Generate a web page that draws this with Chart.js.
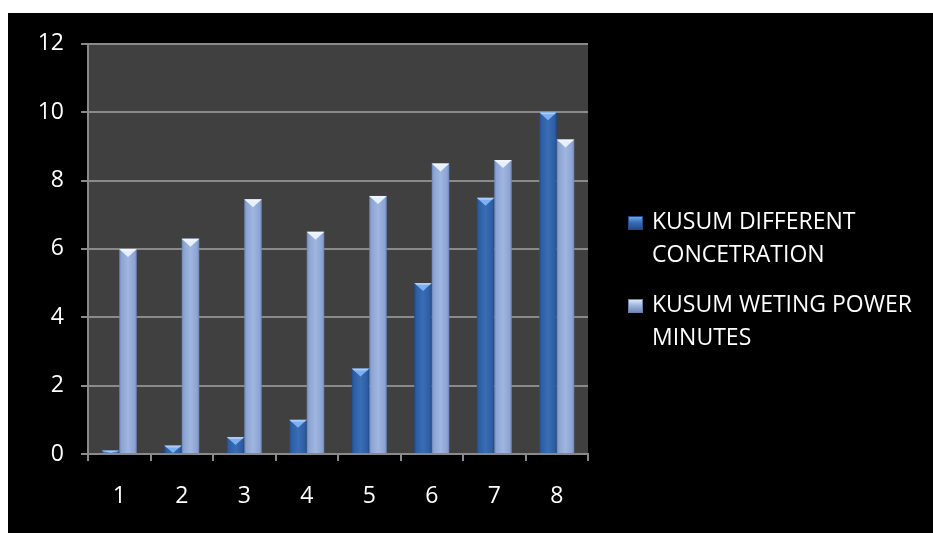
<!DOCTYPE html>
<html>
<head>
<meta charset="utf-8">
<script src="https://cdn.jsdelivr.net/npm/chart.js@4.4.1/dist/chart.umd.min.js"></script>
<style>
  html, body { margin: 0; padding: 0; background: #ffffff; }
  body { width: 933px; height: 533px; position: relative; overflow: hidden; }
  #frame { position: absolute; left: 8px; top: 13px; width: 925px; height: 520px; background: #000; }
  #chartBox { position: absolute; left: 0; top: 0; width: 925px; height: 520px; }
  #legend { position: absolute; left: 620px; top: 191px; width: 305px; font-family: "Open Sans", sans-serif; font-size: 23px; color: #fff; }
  .item { position: relative; padding-left: 24px; line-height: 33px; margin-bottom: 17px; }
  .swatch { position: absolute; left: 0; top: 12px; width: 15px; height: 14px; }
</style>
</head>
<body>
<div id="frame">
  <div id="chartBox"><canvas id="chart"></canvas></div>
  <div id="legend"></div>
</div>
<script>
// Categories and the two measured series
const categories = ['1', '2', '3', '4', '5', '6', '7', '8'];
const concentration = [0.1, 0.25, 0.5, 1, 2.5, 5, 7.5, 10];
const wettingMinutes = [6, 6.3, 7.45, 6.5, 7.55, 8.5, 8.6, 9.2];
const seriesNames = ['KUSUM DIFFERENT CONCETRATION', 'KUSUM WETING POWER MINUTES'];
const yTicks = [0, 2, 4, 6, 8, 10, 12];

// Colour palette per series: side shade, centre, bevel highlight
const palette = [
  { edge: '#21498a', mid: '#3a6db5', light: '#2d5ea3', bevel: '#7cb0f2' },
  { edge: '#6c83b2', mid: '#a0b6e0', light: '#8ca4d4', bevel: '#e6f0fd' }
];

function barGradient(ctx, el, p) {
  const g = ctx.createLinearGradient(el.x - el.width / 2, 0, el.x + el.width / 2, 0);
  g.addColorStop(0, p.edge);
  g.addColorStop(0.12, p.light);
  g.addColorStop(0.5, p.mid);
  g.addColorStop(0.88, p.light);
  g.addColorStop(1, p.edge);
  return g;
}

// Draws the bars with a horizontal shade and a bevelled top cap
const bevelBars = {
  id: 'bevelBars',
  afterDatasetsDraw(chart) {
    const ctx = chart.ctx;
    chart.data.datasets.forEach((ds, di) => {
      const meta = chart.getDatasetMeta(di);
      const p = palette[di];
      meta.data.forEach(el => {
        const left = el.x - el.width / 2;
        const right = el.x + el.width / 2;
        const top = el.y;
        const h = el.base - el.y;
        ctx.save();
        ctx.fillStyle = barGradient(ctx, el, p);
        ctx.fillRect(left, top, el.width, h);
        const capH = Math.min(8, h);
        ctx.beginPath();
        ctx.moveTo(left, top);
        ctx.lineTo(right, top);
        ctx.lineTo(el.x, top + capH);
        ctx.closePath();
        ctx.fillStyle = p.bevel;
        ctx.fill();
        ctx.beginPath();
        ctx.moveTo(left, top);
        ctx.lineTo(right, top);
        ctx.lineTo(right - 2, top + Math.min(2, h));
        ctx.lineTo(left + 2, top + Math.min(2, h));
        ctx.closePath();
        ctx.fillStyle = 'rgba(255,255,255,0.35)';
        ctx.fill();
        ctx.restore();
      });
    });
  }
};

// Dark plot background
const plotFill = {
  id: 'plotFill',
  beforeDraw(chart) {
    const a = chart.chartArea;
    const ctx = chart.ctx;
    ctx.save();
    ctx.fillStyle = '#404040';
    ctx.fillRect(a.left, a.top, a.right - a.left, a.bottom - a.top);
    ctx.restore();
  }
};

const tickFont = { family: '"Open Sans", sans-serif', size: 23 };

const chart = new Chart(document.getElementById('chart'), {
  type: 'bar',
  data: {
    labels: categories,
    datasets: [
      { label: seriesNames[0], data: concentration, backgroundColor: 'rgba(0,0,0,0)' },
      { label: seriesNames[1], data: wettingMinutes, backgroundColor: 'rgba(0,0,0,0)' }
    ]
  },
  options: {
    responsive: true,
    maintainAspectRatio: false,
    animation: false,
    devicePixelRatio: 1,
    layout: { padding: { top: 30, right: 345, left: 0, bottom: 0 } },
    datasets: { bar: { barPercentage: 1, categoryPercentage: 0.56 } },
    plugins: { legend: { display: false }, tooltip: { enabled: false } },
    scales: {
      x: {
        grid: { offset: true, drawOnChartArea: false, tickLength: 7, color: '#8a8a8a', lineWidth: 2 },
        border: { color: '#8a8a8a', width: 2 },
        ticks: { color: '#ffffff', font: tickFont, padding: 22 },
        afterFit(s) { s.height = 79; }
      },
      y: {
        min: 0,
        max: 12,
        afterBuildTicks(s) { s.ticks = yTicks.map(v => ({ value: v })); },
        grid: { color: '#8a8a8a', lineWidth: 2, tickLength: 7 },
        border: { color: '#8a8a8a', width: 2 },
        ticks: { color: '#ffffff', font: tickFont, padding: 17 },
        afterFit(s) { s.width = 80; }
      }
    }
  },
  plugins: [plotFill, bevelBars]
});

// Legend built from the dataset labels
const legend = document.getElementById('legend');
chart.data.datasets.forEach((ds, i) => {
  const p = palette[i];
  const item = document.createElement('div');
  item.className = 'item';
  const sw = document.createElement('span');
  sw.className = 'swatch';
  sw.style.background = 'linear-gradient(to bottom, ' + p.bevel + ' 0%, ' + p.mid + ' 45%, ' + p.edge + ' 100%)';
  sw.style.boxShadow = 'inset 0 0 0 1px ' + p.edge;
  item.appendChild(sw);
  item.appendChild(document.createTextNode(ds.label));
  legend.appendChild(item);
});
</script>
</body>
</html>
